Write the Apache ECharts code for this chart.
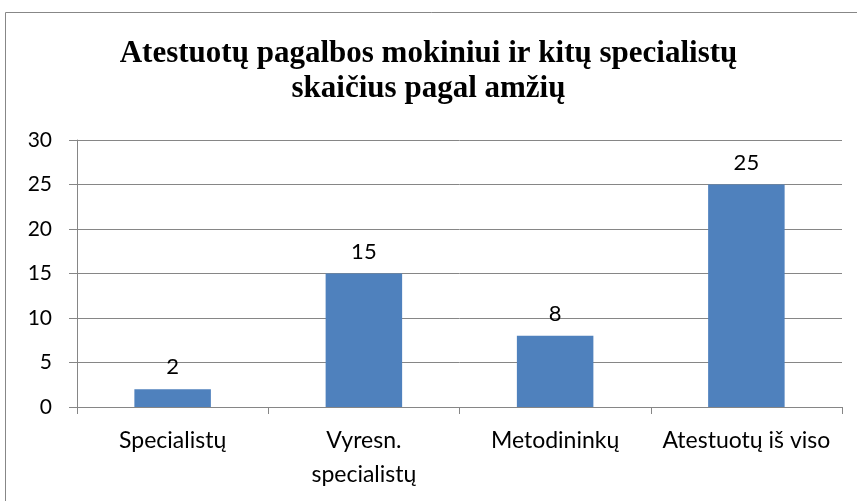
<!DOCTYPE html>
<html>
<head>
<meta charset="utf-8">
<script src="https://cdn.jsdelivr.net/npm/echarts@6/dist/echarts.min.js"></script>
<style>
  html, body { margin: 0; padding: 0; background: #fff; }
  #chart { width: 857px; height: 501px; }
</style>
</head>
<body>
<div id="chart"></div>
<script>
// chart data
const categories = ["Specialistų", "Vyresn.\nspecialistų", "Metodininkų", "Atestuotų iš viso"];
const values = [2, 15, 8, 25];
const titleText = "Atestuotų pagalbos mokiniui ir kitų specialistų\nskaičius pagal amžių";

const labelFont = "Lato, 'Open Sans', sans-serif";
const myChart = echarts.init(document.getElementById("chart"));

myChart.setOption({
  animation: false,
  graphic: [
    {
      type: "rect",
      shape: { x: 5.5, y: 12.5, width: 900, height: 600 },
      style: { fill: "none", stroke: "#878787", lineWidth: 1 },
    },
  ],
  title: {
    text: titleText,
    left: "center",
    top: 31,
    textStyle: {
      fontFamily: "'Liberation Serif', serif",
      fontWeight: "bold",
      fontSize: 31,
      lineHeight: 35,
      color: "#000",
    },
  },
  grid: {
    left: 77,
    right: 15,
    top: 140,
    bottom: 94,
  },
  xAxis: {
    type: "category",
    data: categories,
    axisLine: { lineStyle: { color: "#868686", width: 1 } },
    axisTick: { show: true, interval: 0, length: 7, lineStyle: { color: "#868686" } },
    axisLabel: {
      interval: 0,
      hideOverlap: false,
      color: "#000",
      fontFamily: labelFont,
      fontSize: 23,
      lineHeight: 34,
      margin: 17,
    },
  },
  yAxis: {
    type: "value",
    min: 0,
    max: 30,
    interval: 5,
    axisLine: { show: true, lineStyle: { color: "#868686", width: 1 } },
    axisTick: { show: true, length: 8, lineStyle: { color: "#868686" } },
    splitLine: { show: true, lineStyle: { color: "#868686", width: 1 } },
    axisLabel: {
      color: "#000",
      fontFamily: labelFont,
      fontSize: 21,
      margin: 25,
    },
  },
  series: [
    {
      type: "bar",
      data: values,
      barCategoryGap: "60%",
      itemStyle: { color: "#4F81BD" },
      label: {
        show: true,
        position: "top",
        distance: 11,
        color: "#000",
        fontFamily: labelFont,
        fontSize: 22,
      },
    },
  ],
});
</script>
</body>
</html>
